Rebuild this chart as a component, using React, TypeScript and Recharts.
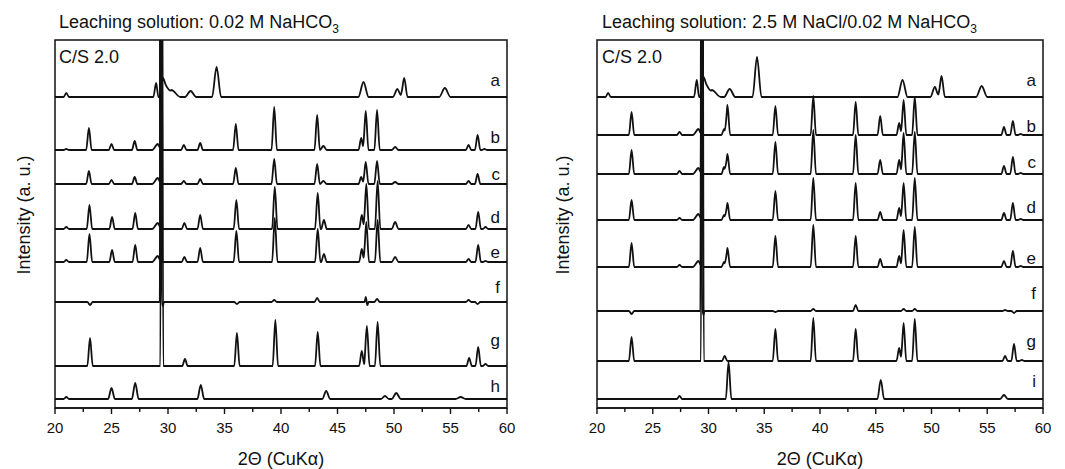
import React from "react";
import { LineChart, Line, XAxis, YAxis } from "recharts";

// peak = [2θ, height, left half width, right half width]
type Peak = [number, number, number?, number?];

const THETA_TICKS = [20, 22.5, 25, 27.5, 30, 32.5, 35, 37.5, 40, 42.5, 45, 47.5, 50, 52.5, 55, 57.5, 60];

// left panel: 0.02 M NaHCO3
const leftA: Peak[] = [
  [21.0, 4], [28.95, 14, 0.25, 0.2], [29.4, 600, 0.1], [29.55, 19, 0.3, 0.7], [30.3, 7, 0.5, 0.8],
  [32.0, 6, 0.5], [34.3, 30, 0.4], [47.3, 15, 0.45], [50.3, 8, 0.4], [50.9, 19, 0.3], [54.5, 9, 0.5],
];
const leftB: Peak[] = [
  [21.0, 1], [23.0, 22], [25.0, 6], [27.05, 9], [29.1, 6, 0.5, 0.3], [29.4, 600, 0.1], [31.4, 5], [32.85, 7],
  [36.0, 26], [39.4, 43], [43.2, 35], [43.75, 4, 0.3], [47.1, 12], [47.5, 39], [48.5, 40], [50.1, 3, 0.3],
  [56.6, 5], [57.4, 15], [58.0, 1],
];
const leftC: Peak[] = [
  [23.0, 13], [25.0, 4], [27.05, 7], [29.1, 6, 0.5, 0.3], [29.4, 600, 0.1], [31.4, 3], [32.85, 5],
  [36.0, 16], [39.4, 25], [43.2, 20], [43.75, 3, 0.3], [47.1, 7], [47.5, 22], [48.5, 23], [50.1, 2, 0.3],
  [56.6, 3], [57.4, 10],
];
const leftD: Peak[] = [
  [21.0, 2], [23.05, 24], [25.05, 12], [27.1, 16], [29.1, 6, 0.5, 0.3], [29.4, 600, 0.1], [31.45, 6], [32.85, 14],
  [36.05, 29], [39.45, 42], [43.25, 36], [43.8, 9, 0.25], [47.15, 14], [47.55, 45], [48.55, 48], [50.1, 7, 0.3],
  [56.6, 4], [57.45, 17], [58.1, 2],
];
const leftE: Peak[] = [
  [21.0, 2], [23.05, 28], [25.05, 12], [27.1, 17], [29.1, 6, 0.5, 0.3], [29.4, 600, 0.1], [31.45, 5], [32.85, 14],
  [36.05, 31], [39.45, 44], [43.25, 33], [43.8, 8, 0.25], [47.15, 13], [47.55, 40], [48.55, 42], [50.1, 5, 0.3],
  [56.6, 3], [57.45, 17], [58.1, 1],
];
const leftF: Peak[] = [
  [23.1, -3], [29.35, 300, 0.08], [29.55, -4, 0.08], [36.1, -2], [39.4, 2], [43.2, 4], [47.5, 5, 0.1],
  [47.65, -3, 0.1], [48.5, 3], [56.6, 2], [57.4, -2],
];
const leftG: Peak[] = [
  [23.1, 28], [29.45, 600, 0.13], [31.5, 7], [36.1, 33], [39.5, 46], [43.25, 34], [47.15, 15], [47.6, 40],
  [48.55, 44], [56.65, 8], [57.45, 19], [58.1, 2],
];
const leftH: Peak[] = [
  [21.0, 2], [25.0, 11, 0.3], [27.1, 16, 0.3], [32.9, 14, 0.3], [44.0, 8, 0.35], [49.2, 3, 0.35],
  [50.2, 6, 0.4], [55.9, 2, 0.45],
];

// right panel: 2.5 M NaCl/0.02 M NaHCO3
const rightA: Peak[] = [
  [21.0, 4], [28.95, 17, 0.25, 0.2], [29.4, 600, 0.1], [29.55, 20, 0.3, 0.7], [30.3, 7, 0.5, 0.8],
  [31.9, 8, 0.5], [34.35, 40, 0.4], [47.4, 17, 0.45], [50.3, 10, 0.4], [50.9, 21, 0.3], [54.5, 11, 0.5],
];
const rightB: Peak[] = [
  [23.1, 23], [27.4, 3], [29.1, 6, 0.5, 0.3], [29.4, 600, 0.1], [31.4, 6], [31.7, 30], [36.0, 29], [39.4, 39],
  [43.2, 33], [45.4, 19], [47.1, 12], [47.5, 35], [48.5, 38], [56.5, 8], [57.3, 14], [58.0, 1],
];
const rightC: Peak[] = [
  [23.1, 24], [27.4, 3], [29.1, 6, 0.5, 0.3], [29.4, 600, 0.1], [31.4, 7], [31.7, 20], [36.0, 32], [39.4, 44],
  [43.2, 39], [45.4, 14], [47.1, 14], [47.5, 41], [48.5, 42], [56.5, 8], [57.3, 17], [58.0, 1],
];
const rightD: Peak[] = [
  [23.1, 20], [27.4, 2], [29.1, 6, 0.5, 0.3], [29.4, 600, 0.1], [31.4, 5], [31.7, 17], [36.0, 29], [39.4, 42],
  [43.2, 37], [45.4, 8], [47.1, 12], [47.5, 37], [48.5, 42], [56.5, 7], [57.3, 17], [58.0, 1],
];
const rightE: Peak[] = [
  [23.1, 24], [27.4, 2], [29.1, 6, 0.5, 0.3], [29.4, 600, 0.1], [31.4, 5], [31.7, 19], [36.0, 31], [39.4, 42],
  [43.2, 31], [45.4, 8], [47.1, 11], [47.5, 37], [48.5, 40], [56.5, 6], [57.3, 16], [58.0, 1],
];
const rightF: Peak[] = [
  [23.1, -3], [29.35, 300, 0.08], [29.55, -4, 0.08], [36.0, -1], [39.4, 2], [43.2, 6], [47.5, 2],
  [48.5, 2], [56.6, 1], [57.4, -2],
];
const rightG: Peak[] = [
  [23.1, 24], [29.45, 600, 0.13], [31.45, 5], [36.0, 32], [39.4, 43], [43.2, 32], [47.1, 13], [47.5, 38],
  [48.5, 42], [56.6, 5], [57.4, 17], [58.1, 1],
];
const rightI: Peak[] = [[27.4, 3], [31.8, 37, 0.25], [45.45, 19, 0.3], [56.5, 4, 0.35]];

const leftNames = ["a", "b", "c", "d", "e", "f", "g", "h"];
const rightNames = ["a", "b", "c", "d", "e", "f", "g", "i"];

// stacking offsets (plot units) and label baselines (px)
const leftOffsets = [311, 258, 224, 179, 146, 106, 42, 9];
const rightOffsets = [311, 273, 234, 188, 141, 97, 47, 9];
const leftLabelY = [86, 143, 180, 223, 258, 293, 346, 392];
const rightLabelY = [86, 132, 168, 213, 264, 299, 347, 387];

const FONT = "'Liberation Sans', Arial, sans-serif";
const INK = "#111";
const HW = 0.24;

function buildTrace(peaks: Peak[], offset: number) {
  const xs = new Set<number>([20, 60]);
  peaks.forEach(([p, , wl = HW, wr = wl]) => {
    xs.add(+(p - wl).toFixed(3));
    xs.add(p);
    xs.add(+(p + wr).toFixed(3));
  });
  return [...xs]
    .filter((x) => x >= 20 && x <= 60)
    .sort((a, b) => a - b)
    .map((x) => {
      let y = offset;
      peaks.forEach(([p, h, wl = HW, wr = wl]) => {
        const d = x - p;
        if (d <= 0 && -d < wl) y += h * (1 + d / wl);
        else if (d > 0 && d < wr) y += h * (1 - d / wr);
      });
      return { x, y };
    });
}

const ThetaTick = (props: any) => {
  const { x, y, payload } = props;
  const major = payload.value % 5 === 0;
  return (
    <g>
      <line x1={x} x2={x} y1={y} y2={y + (major ? 6 : 4)} stroke={INK} strokeWidth={1.4} />
      {major && (
        <text x={x} y={y + 25} textAnchor="middle" fontSize={15} fontFamily={FONT} fill={INK}>
          {payload.value}
        </text>
      )}
    </g>
  );
};

function Panel({ left, width, plotLeft, plotRight, series, names, offsets, labelY, title, labelX, yLabelX }: any) {
  const traces = series.map((peaks: Peak[], i: number) => buildTrace(peaks, offsets[i]));
  return (
    <div style={{ position: "absolute", left, top: 0, width, height: 469 }}>
      <LineChart width={width} height={469} margin={{ top: 40, right: width - plotRight, bottom: 31, left: plotLeft }}>
        <XAxis
          type="number"
          dataKey="x"
          domain={[20, 60]}
          ticks={THETA_TICKS}
          interval={0}
          tick={<ThetaTick />}
          tickLine={false}
          tickSize={0}
          tickMargin={0}
          height={30}
          axisLine={{ stroke: INK, strokeWidth: 1.5 }}
          allowDataOverflow
        />
        <YAxis type="number" domain={[0, 368]} tick={false} tickLine={false} width={0} allowDataOverflow axisLine={false} />
        {traces.map((d: any[], i: number) => (
          <Line
            key={names[i]}
            data={d}
            dataKey="y"
            type="monotone"
            stroke={INK}
            strokeWidth={1.8}
            dot={false}
            isAnimationActive={false}
          />
        ))}
      </LineChart>
      <svg width={width} height={469} style={{ position: "absolute", left: 0, top: 0, pointerEvents: "none" }} fontFamily={FONT} fill={INK}>
        <rect x={plotLeft} y={40} width={plotRight - plotLeft} height={368} fill="none" stroke={INK} strokeWidth={1.5} />
        <text x={labelX} y={28} fontSize={18}>
          {title}
          <tspan fontSize={12} dy={5}>3</tspan>
        </text>
        <text x={labelX} y={63} fontSize={18}>C/S 2.0</text>
        {names.map((n: string, i: number) => (
          <text key={n} x={plotRight - 7} y={labelY[i]} fontSize={17} textAnchor="end">{n}</text>
        ))}
        <text x={(plotLeft + plotRight) / 2} y={465} fontSize={18} textAnchor="middle">2Θ (CuKα)</text>
        <text x={yLabelX} y={215} fontSize={18} textAnchor="middle" transform={`rotate(-90 ${yLabelX} 215)`} dy={6}>
          Intensity (a. u.)
        </text>
      </svg>
    </div>
  );
}

export default function App() {
  return (
    <div style={{ position: "absolute", left: 0, top: 0, width: 1065, height: 469, background: "#fff" }}>
      <Panel
        left={0}
        width={530}
        plotLeft={55}
        plotRight={507}
        series={[leftA, leftB, leftC, leftD, leftE, leftF, leftG, leftH]}
        names={leftNames}
        offsets={leftOffsets}
        labelY={leftLabelY}
        title="Leaching solution: 0.02 M NaHCO"
        labelX={59}
        yLabelX={24}
      />
      <Panel
        left={530}
        width={535}
        plotLeft={67}
        plotRight={513}
        series={[rightA, rightB, rightC, rightD, rightE, rightF, rightG, rightI]}
        names={rightNames}
        offsets={rightOffsets}
        labelY={rightLabelY}
        title="Leaching solution: 2.5 M NaCl/0.02 M NaHCO"
        labelX={72}
        yLabelX={33}
      />
    </div>
  );
}
